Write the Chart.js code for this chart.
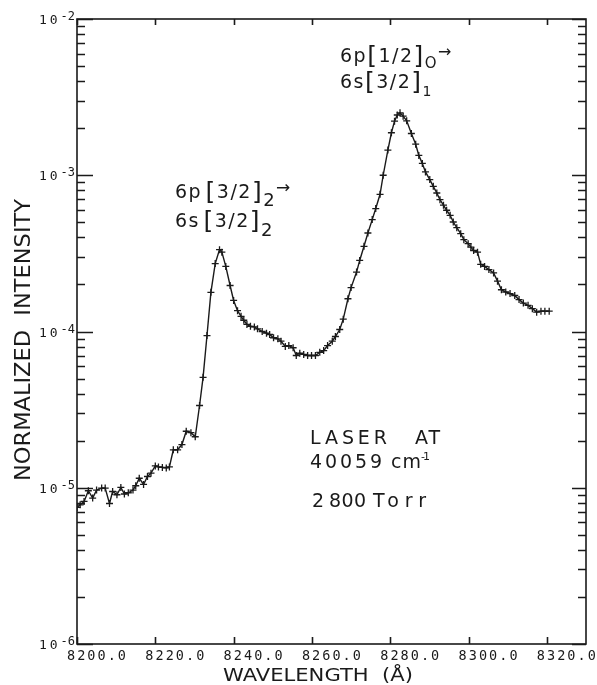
<!DOCTYPE html>
<html>
<head>
<meta charset="utf-8">
<script src="https://cdn.jsdelivr.net/npm/chart.js@4.4.0/dist/chart.umd.min.js"></script>
<style>
  html, body { margin: 0; padding: 0; background: #fff; }
  #wrap { width: 597px; height: 685px; position: relative; }
</style>
</head>
<body>
<div id="wrap"><canvas id="spectrum"></canvas></div>
<script>
// Wavelength of each recorded point (Angstrom)
const wavelength = [
  8200.0, 8200.8, 8201.8, 8202.9, 8204.0, 8205.0, 8206.3, 8207.2, 8208.3, 8209.1,
  8210.2, 8211.2, 8212.1, 8213.1, 8214.3, 8215.0, 8215.9, 8217.0, 8218.0, 8218.9,
  8220.0, 8220.8, 8221.8, 8222.8, 8223.6, 8224.6, 8225.7, 8226.8, 8227.9, 8229.1,
  8230.2, 8231.3, 8232.2, 8233.2, 8234.2, 8235.3, 8236.4, 8237.0, 8238.0, 8239.1,
  8240.0, 8241.0, 8241.9, 8242.6, 8243.4, 8244.3, 8245.3, 8246.1, 8247.3, 8248.4,
  8249.2, 8250.2, 8251.3, 8252.1, 8253.2, 8254.1, 8255.2, 8256.0, 8256.9, 8257.9,
  8258.9, 8259.9, 8260.9, 8262.0, 8263.0, 8264.0, 8265.2, 8266.0, 8267.1, 8268.0,
  8269.2, 8270.0, 8271.4, 8272.2, 8273.3, 8274.3, 8275.4, 8276.3, 8277.4, 8278.2,
  8279.4, 8280.3, 8281.1, 8281.8, 8282.5, 8283.3, 8284.2, 8285.4, 8286.5, 8287.3,
  8288.2, 8289.0, 8290.1, 8291.0, 8291.9, 8292.7, 8293.6, 8294.4, 8295.3, 8296.1,
  8297.0, 8298.0, 8298.8, 8299.9, 8300.6, 8301.3, 8302.3, 8303.1, 8304.1, 8305.2,
  8306.4, 8307.4, 8308.4, 8309.5, 8310.6, 8311.8, 8312.9, 8314.0, 8315.2, 8316.3,
  8317.4, 8318.5, 8319.5, 8320.6
];

// Normalized intensity at each wavelength
const intensity = [
  7.48e-6, 7.78e-6, 8.17e-6, 9.57e-6, 8.59e-6, 9.66e-6, 9.95e-6, 9.95e-6, 7.93e-6, 9.46e-6,
  9.02e-6, 1.005e-5, 9.12e-6, 9.29e-6, 9.66e-6, 1.03e-5, 1.15e-5, 1.05e-5, 1.18e-5, 1.24e-5,
  1.38e-5, 1.36e-5, 1.35e-5, 1.34e-5, 1.36e-5, 1.75e-5, 1.75e-5, 1.89e-5, 2.30e-5, 2.25e-5,
  2.12e-5, 3.36e-5, 5.09e-5, 9.42e-5, 1.78e-4, 2.72e-4, 3.34e-4, 3.22e-4, 2.61e-4, 1.97e-4,
  1.58e-4, 1.36e-4, 1.25e-4, 1.18e-4, 1.11e-4, 1.08e-4, 1.07e-4, 1.04e-4, 1.00e-4, 9.75e-5,
  9.57e-5, 9.12e-5, 8.98e-5, 8.67e-5, 8.02e-5, 8.13e-5, 7.87e-5, 7.02e-5, 7.26e-5, 7.13e-5,
  7.02e-5, 7.02e-5, 7.02e-5, 7.36e-5, 7.55e-5, 8.13e-5, 8.67e-5, 9.29e-5, 1.03e-4, 1.20e-4,
  1.62e-4, 1.91e-4, 2.40e-4, 2.85e-4, 3.51e-4, 4.27e-4, 5.20e-4, 6.12e-4, 7.55e-4, 1.00e-3,
  1.45e-3, 1.87e-3, 2.22e-3, 2.43e-3, 2.51e-3, 2.39e-3, 2.23e-3, 1.85e-3, 1.58e-3, 1.34e-3,
  1.19e-3, 1.05e-3, 9.38e-4, 8.49e-4, 7.70e-4, 6.98e-4, 6.43e-4, 5.97e-4, 5.54e-4, 5.02e-4,
  4.62e-4, 4.23e-4, 3.87e-4, 3.65e-4, 3.47e-4, 3.30e-4, 3.22e-4, 2.69e-4, 2.61e-4, 2.49e-4,
  2.37e-4, 2.10e-4, 1.85e-4, 1.79e-4, 1.75e-4, 1.70e-4, 1.60e-4, 1.52e-4, 1.47e-4, 1.40e-4,
  1.33e-4, 1.35e-4, 1.35e-4, 1.35e-4
];

// Axis ticks
const xTicks = [8200, 8220, 8240, 8260, 8280, 8300, 8320];
const yDecades = [-6, -5, -4, -3, -2];

const INK = '#1a1a1a';
const SANS = '"DejaVu Sans"';
const MONO = '"DejaVu Sans Mono"';

// Draw a run of text pieces: [text, fontSize, baselineShift, family]
function drawRun(ctx, x, y, parts, spacing) {
    let cx = x;
    parts.forEach(([t, size, dy, fam]) => {
        ctx.font = size + 'px ' + (fam || SANS);
        ctx.letterSpacing = (spacing || 0) + 'px';
        ctx.fillText(t, cx, y + dy);
        cx += ctx.measureText(t).width;
    });
    ctx.letterSpacing = '0px';
    return cx;
}

// Left-aligned text whose letters are spread to fill a width
function drawSpaced(ctx, text, x, y, font, width) {
    ctx.font = font;
    ctx.letterSpacing = '0px';
    const w = ctx.measureText(text).width;
    const gap = text.length > 1 ? (width - w) / (text.length - 1) : 0;
    ctx.letterSpacing = gap + 'px';
    ctx.fillText(text, x, y);
    ctx.letterSpacing = '0px';
}

// Text squeezed horizontally to a given width
function drawFitted(ctx, text, cx, cy, font, width) {
    ctx.font = font;
    const w = ctx.measureText(text).width;
    ctx.save();
    ctx.translate(cx, cy);
    ctx.scale(width / w, 1);
    ctx.textAlign = 'center';
    ctx.fillText(text, 0, 0);
    ctx.restore();
}

// Frame, inward ticks, tick labels, axis titles and line annotations
const framePlugin = {
    id: 'frame',
    afterDraw(chart) {
        const { ctx, chartArea: a, scales: { x, y } } = chart;
        ctx.save();
        ctx.strokeStyle = INK;
        ctx.fillStyle = INK;
        ctx.lineWidth = 1.6;
        ctx.strokeRect(a.left, a.top, a.right - a.left, a.bottom - a.top);

        // x ticks on top and bottom
        ctx.beginPath();
        xTicks.forEach(v => {
            const px = Math.round(x.getPixelForValue(v)) + 0.5;
            ctx.moveTo(px, a.bottom); ctx.lineTo(px, a.bottom - 7);
            ctx.moveTo(px, a.top); ctx.lineTo(px, a.top + 6);
        });
        // y ticks, decades and 2..9 minors on both sides
        yDecades.forEach(k => {
            for (let m = 1; m <= 9; m++) {
                const v = m * Math.pow(10, k);
                if (v > y.max * 1.0001) break;
                const py = Math.round(y.getPixelForValue(v)) + 0.5;
                const major = m === 1;
                ctx.moveTo(a.left, py); ctx.lineTo(a.left + (major ? 16 : 8), py);
                ctx.moveTo(a.right, py); ctx.lineTo(a.right - (major ? 14 : 8), py);
            }
        });
        ctx.stroke();

        // x tick labels, set a little right of their ticks
        ctx.textAlign = 'left';
        ctx.textBaseline = 'alphabetic';
        xTicks.forEach(v => {
            const px = x.getPixelForValue(v);
            drawSpaced(ctx, v.toFixed(1), px - 10, a.bottom + 16, '13.5px ' + MONO, 59);
        });

        // y tick labels as powers of ten
        yDecades.forEach(k => {
            const py = y.getPixelForValue(Math.pow(10, k));
            ctx.font = '13px ' + MONO;
            ctx.letterSpacing = '3px';
            const wBase = ctx.measureText('10').width;
            ctx.font = '12px ' + MONO;
            ctx.letterSpacing = '0px';
            const wExp = ctx.measureText('-' + (-k)).width;
            const x0 = a.left - 2 - wBase - wExp;
            drawRun(ctx, x0, py + 5, [['10', 13, 0, MONO]], 3);
            drawRun(ctx, x0 + wBase, py + 1, [['-' + (-k), 12, 0, MONO]], 0);
        });

        // axis titles
        drawFitted(ctx, 'WAVELENGTH  (Å)', 318, a.bottom + 37, '17px ' + SANS, 190);
        ctx.save();
        ctx.translate(30, 340);
        ctx.rotate(-Math.PI / 2);
        drawFitted(ctx, 'NORMALIZED  INTENSITY', 0, 0, '22px ' + SANS, 282);
        ctx.restore();

        // transition labels
        let e = drawRun(ctx, 175, 198, [['6p', 19, 0], [' ', 6, 0], ['[', 25, 2], ['3/2', 19, 0], [']', 25, 2], ['2', 18, 8]], 1.5);
        drawRun(ctx, e, 193, [['→', 17, 0]], 0);
        drawRun(ctx, 175, 227, [['6s', 19, 0], [' ', 6, 0], ['[', 25, 2], ['3/2', 19, 0], [']', 25, 2], ['2', 18, 9]], 1.5);

        e = drawRun(ctx, 340, 62, [['6p', 19, 0], ['[', 25, 2], ['1/2', 19, 0], [']', 25, 2], ['O', 15, 6]], 1.5);
        drawRun(ctx, e, 57, [['→', 16, 0]], 0);
        drawRun(ctx, 340, 88, [['6s', 19, 0], ['[', 25, 2], ['3/2', 19, 0], [']', 25, 2], ['1', 14, 8]], 1.5);

        // experimental conditions
        drawSpaced(ctx, 'LASER', 310, 444, '19px ' + SANS, 77);
        drawSpaced(ctx, 'AT', 415, 444, '19px ' + SANS, 25);
        drawSpaced(ctx, '40059', 310, 468, '19px ' + SANS, 72);
        drawSpaced(ctx, 'cm', 391, 468, '19px ' + SANS, 30);
        drawSpaced(ctx, '-1', 421, 460, '11px ' + SANS, 9);
        drawSpaced(ctx, '2', 312, 507, '19px ' + SANS, 9);
        drawSpaced(ctx, '800', 329, 507, '19px ' + SANS, 37);
        drawSpaced(ctx, 'Torr', 373, 507, '19px ' + SANS, 53);

        ctx.restore();
    }
};

const points = wavelength.map((w, i) => ({ x: w, y: intensity[i] }));

new Chart(document.getElementById('spectrum').getContext('2d'), {
    type: 'line',
    data: {
        datasets: [{
            data: points,
            borderColor: INK,
            borderWidth: 1.4,
            pointStyle: 'cross',
            pointRadius: 3.5,
            pointBorderWidth: 1.3,
            pointBorderColor: INK,
            tension: 0,
            fill: false
        }]
    },
    options: {
        responsive: true,
        maintainAspectRatio: false,
        animation: false,
        layout: { padding: { top: 19, right: 11, left: 0, bottom: 0 } },
        plugins: { legend: { display: false }, tooltip: { enabled: false } },
        scales: {
            x: {
                type: 'linear',
                min: 8200,
                max: 8330,
                afterFit: s => { s.height = 41; },
                ticks: { display: false },
                grid: { display: false },
                border: { display: false }
            },
            y: {
                type: 'logarithmic',
                min: 1e-6,
                max: 1e-2,
                afterFit: s => { s.width = 77; },
                ticks: { display: false },
                grid: { display: false },
                border: { display: false }
            }
        }
    },
    plugins: [framePlugin]
});
</script>
</body>
</html>
